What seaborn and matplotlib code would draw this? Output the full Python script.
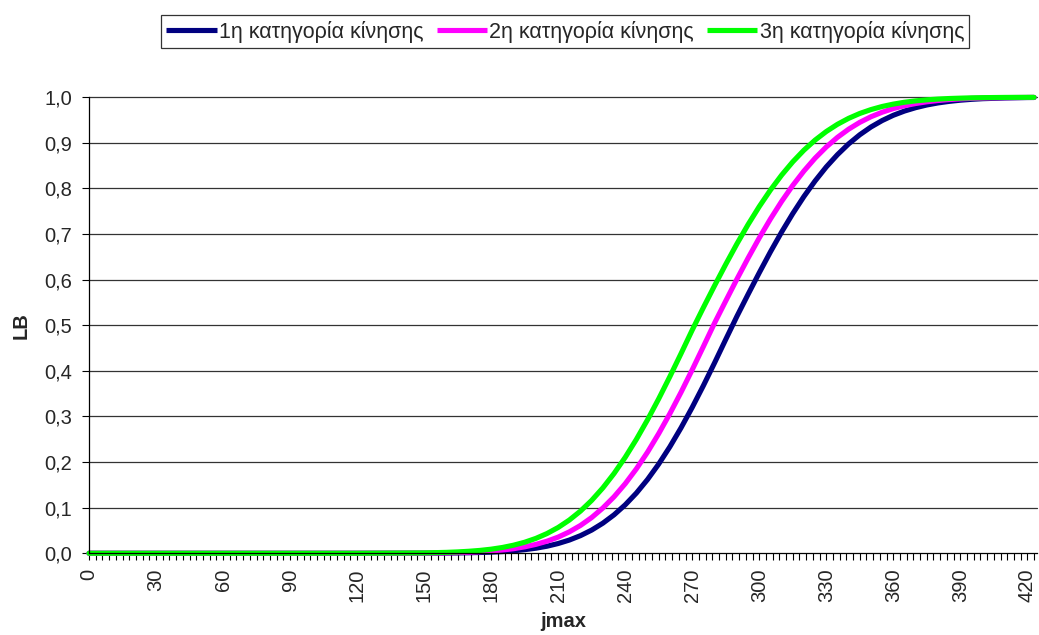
import matplotlib
matplotlib.use("Agg")
import matplotlib.pyplot as plt
from matplotlib.ticker import MultipleLocator, FuncFormatter
import pandas as pd
import seaborn as sns

# jmax values at which LB was evaluated
jmax = [0, 30, 60, 90, 120, 150,
        160, 165, 170, 175, 180, 185, 190, 195, 200, 205, 210, 215, 220, 225,
        230, 235, 240, 245, 250, 255, 260, 265, 270, 275, 280, 285, 290, 295,
        300, 305, 310, 315, 320, 325, 330, 335, 340, 345, 350, 355, 360, 365,
        370, 375, 380, 385, 390, 395, 400, 410, 420, 423]

# LB for each movement category
lb_cat1 = [0, 0, 0, 0, 0, 0.0002,
           0.0004, 0.0007, 0.0011, 0.0017, 0.0025, 0.0037, 0.0055, 0.0079, 0.0111,
           0.0155, 0.0214, 0.0290, 0.0387, 0.0509, 0.0660, 0.0843, 0.1062, 0.1320,
           0.1618, 0.1957, 0.2336, 0.2752, 0.3200, 0.3677, 0.4176, 0.4689, 0.5195,
           0.5678, 0.6151, 0.6609, 0.7043, 0.7449, 0.7824, 0.8165, 0.8472, 0.8741,
           0.8977, 0.9178, 0.9348, 0.9489, 0.9605, 0.9698, 0.9772, 0.9831, 0.9876,
           0.9910, 0.9936, 0.9955, 0.9969, 0.9985, 0.9994, 0.9995]
lb_cat2 = [0, 0, 0, 0, 0, 0.0004,
           0.0010, 0.0015, 0.0022, 0.0033, 0.0049, 0.0071, 0.0100, 0.0141, 0.0195,
           0.0265, 0.0355, 0.0470, 0.0611, 0.0784, 0.0993, 0.1239, 0.1525, 0.1851,
           0.2218, 0.2624, 0.3063, 0.3531, 0.4025, 0.4534, 0.5049, 0.5533, 0.6011,
           0.6473, 0.6915, 0.7330, 0.7715, 0.8067, 0.8383, 0.8665, 0.8910, 0.9121,
           0.9300, 0.9450, 0.9573, 0.9672, 0.9752, 0.9815, 0.9863, 0.9901, 0.9929,
           0.9950, 0.9965, 0.9976, 0.9984, 0.9993, 0.9997, 0.9998]
lb_cat3 = [0, 0, 0, 0, 0, 0.0008,
           0.0020, 0.0030, 0.0044, 0.0063, 0.0090, 0.0127, 0.0177, 0.0242, 0.0326,
           0.0433, 0.0566, 0.0729, 0.0926, 0.1160, 0.1434, 0.1749, 0.2104, 0.2498,
           0.2928, 0.3388, 0.3875, 0.4380, 0.4896, 0.5389, 0.5869, 0.6336, 0.6785,
           0.7209, 0.7603, 0.7965, 0.8292, 0.8584, 0.8840, 0.9061, 0.9249, 0.9407,
           0.9538, 0.9645, 0.9730, 0.9798, 0.9850, 0.9891, 0.9921, 0.9944, 0.9961,
           0.9973, 0.9981, 0.9988, 0.9992, 0.9997, 0.9999, 0.9999]

series_names = ["1η κατηγορία κίνησης", "2η κατηγορία κίνησης", "3η κατηγορία κίνησης"]
series_colors = ["#000080", "#FF00FF", "#00FF00"]

frames = []
for name, vals in zip(series_names, [lb_cat1, lb_cat2, lb_cat3]):
    frames.append(pd.DataFrame({"jmax": jmax, "LB": vals, "series": name}))
df = pd.concat(frames, ignore_index=True)

sns.set_style("white")
plt.rcParams["font.family"] = ["Liberation Sans", "DejaVu Sans"]
plt.rcParams["font.size"] = 14.5

fig = plt.figure(figsize=(10.39, 6.35), dpi=100)
ax = fig.add_axes([0.0857, 0.1287, 0.9123, 0.7181])

# horizontal gridlines
for v in [i / 10 for i in range(1, 11)]:
    ax.axhline(v, color="#333333", lw=0.9, zorder=0)

sns.lineplot(data=df, x="jmax", y="LB", hue="series", hue_order=series_names,
             palette=series_colors, linewidth=3.7, ax=ax, legend=False,
             estimator=None, sort=True)
for line in ax.lines:
    line.set_clip_on(False)
    line.set_solid_joinstyle("round")

ax.set_xlim(0, 424.3)
ax.set_ylim(0, 1.0)

ax.xaxis.set_major_locator(MultipleLocator(30))
ax.xaxis.set_minor_locator(MultipleLocator(3))
ax.yaxis.set_major_locator(MultipleLocator(0.1))
ax.yaxis.set_major_formatter(FuncFormatter(lambda v, p: f"{v:.1f}".replace(".", ",")))

ax.tick_params(axis="x", which="both", direction="out", length=5, width=0.8,
               color="black", bottom=True, pad=6, labelrotation=90, labelsize=14.5)
ax.tick_params(axis="y", which="major", direction="out", length=5, width=0.8,
               color="black", left=True, pad=7, labelsize=14.5)

for s in ["top", "right"]:
    ax.spines[s].set_visible(False)
for s in ["left", "bottom"]:
    ax.spines[s].set_color("black")
    ax.spines[s].set_linewidth(0.9)

ax.set_xlabel("jmax", fontweight="bold", fontsize=14.5, labelpad=7)
ax.set_ylabel("LB", fontweight="bold", fontsize=14.5, labelpad=10)

handles = [plt.Line2D([], [], color=c, lw=3.7, solid_capstyle="butt") for c in series_colors]
leg = fig.legend(handles, series_names, loc="center", bbox_to_anchor=(0.544, 0.95),
                 ncol=3, frameon=True, fancybox=False, edgecolor="black",
                 fontsize=15.5, handlelength=2.35, handletextpad=0.1,
                 columnspacing=0.6, borderpad=0.25, borderaxespad=0)
leg.get_frame().set_linewidth(0.9)

fig.savefig("out.png", dpi=100, facecolor="white")
